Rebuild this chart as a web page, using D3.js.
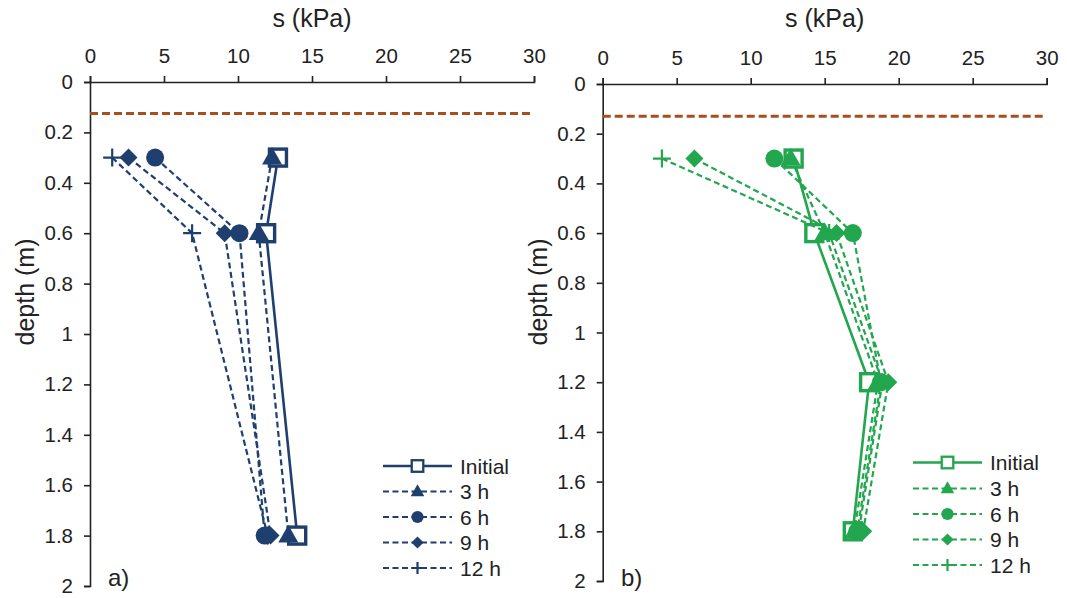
<!DOCTYPE html>
<html>
<head>
<meta charset="utf-8">
<script src="https://cdn.jsdelivr.net/npm/d3@7"></script>
<style>
  html, body { margin: 0; padding: 0; background: #fff; }
  svg { display: block; font-family: "Liberation Sans", Arial, sans-serif; }
</style>
</head>
<body>
<svg id="chart" width="1067" height="598"></svg>
<script>
// Series labels (legend order)
const seriesNames = ["Initial", "3 h", "6 h", "9 h", "12 h"];
const seriesSymbols = ["square", "triangle", "circle", "diamond", "cross"];

// Axis ticks
const suctionTicks = [0, 5, 10, 15, 20, 25, 30];
const depthTicks = [0, 0.2, 0.4, 0.6, 0.8, 1, 1.2, 1.4, 1.6, 1.8, 2];

// Panel a) — suction (kPa) at each measuring depth (m)
const depthsA = [0.3, 0.6, 1.8];
const sA_initial = [12.7, 11.9, 14.0];
const sA_3h = [12.3, 11.4, 13.4];
const sA_6h = [4.4, 10.1, 11.8];
const sA_9h = [2.6, 9.1, 12.2];
const sA_12h = [1.5, 6.9, 12.0];
const waterTableA = 0.125;

// Panel b) — suction (kPa) at each measuring depth (m)
const depthsB = [0.3, 0.6, 1.2, 1.8];
const sB_initial = [12.9, 14.3, 18.0, 16.9];
const sB_3h = [12.7, 15.0, 18.6, 17.0];
const sB_6h = [11.6, 16.9, 18.8, 17.2];
const sB_9h = [6.2, 15.8, 19.3, 17.6];
const sB_12h = [4.0, 15.3, 18.9, 17.3];
const waterTableB = 0.13;

const svg = d3.select("#chart");
const ink = "#222";

function drawPanel(opt) {
  const g = svg.append("g");
  const x = d3.scaleLinear().domain([0, 30]).range([opt.x0, opt.x1]);
  const y = d3.scaleLinear().domain([0, 2]).range([opt.y0, opt.y1]);

  // axes
  const xAxis = d3.axisTop(x).tickValues(suctionTicks).tickSize(6).tickPadding(13);
  const yAxis = d3.axisLeft(y).tickValues(depthTicks).tickSize(6).tickPadding(11)
    .tickFormat(d => String(+d.toFixed(1)));

  const gx = g.append("g").attr("transform", `translate(0,${opt.y0})`).call(xAxis);
  const gy = g.append("g").attr("transform", `translate(${opt.x0},0)`).call(yAxis);
  [gx, gy].forEach(a => {
    a.selectAll("path.domain").attr("stroke", ink).attr("stroke-width", 1.6);
    a.selectAll(".tick line").attr("stroke", ink).attr("stroke-width", 1.6);
    a.selectAll(".tick text").attr("fill", ink).attr("font-size", 20.5)
      .attr("font-family", "Liberation Sans, Arial, sans-serif");
  });

  // axis titles
  g.append("text").attr("x", (opt.x0 + opt.x1) / 2).attr("y", 27)
    .attr("text-anchor", "middle").attr("font-size", 25).attr("fill", ink)
    .text("s (kPa)");
  g.append("text")
    .attr("transform", `translate(${opt.x0 - 56},${opt.labelY}) rotate(-90)`)
    .attr("text-anchor", "middle").attr("font-size", 25).attr("fill", ink)
    .text("depth (m)");

  // water table line
  g.append("line")
    .attr("x1", x(0)).attr("x2", x(30))
    .attr("y1", y(opt.waterTable)).attr("y2", y(opt.waterTable))
    .attr("stroke", "#A5501E").attr("stroke-width", 3)
    .attr("stroke-dasharray", "8,4");

  const line = d3.line().x(d => x(d[0])).y(d => y(d[1]));

  opt.series.forEach((vals, i) => {
    const pts = vals.map((v, k) => [v, opt.depths[k]]);
    g.append("path").datum(pts)
      .attr("d", line).attr("fill", "none")
      .attr("stroke", opt.color)
      .attr("stroke-width", i === 0 ? 2.6 : 2.2)
      .attr("stroke-dasharray", i === 0 ? null : "6,3.5");
    pts.forEach(p => drawMarker(g, seriesSymbols[i], x(p[0]), y(p[1]), opt.color, 1));
  });

  // legend
  opt.legendY.forEach((ly, i) => {
    g.append("line")
      .attr("x1", opt.legendX).attr("x2", opt.legendX + 69)
      .attr("y1", ly).attr("y2", ly)
      .attr("stroke", opt.color)
      .attr("stroke-width", i === 0 ? 2.6 : 2.2)
      .attr("stroke-dasharray", i === 0 ? null : "6,3.5");
    drawMarker(g, seriesSymbols[i], opt.legendX + 34.5, ly, opt.color, 0.68);
    g.append("text").attr("x", opt.legendX + 77).attr("y", ly + 7.5)
      .attr("font-size", 21).attr("fill", ink).text(seriesNames[i]);
  });

  // panel tag
  g.append("text").attr("x", opt.tagX).attr("y", 586)
    .attr("font-size", 24).attr("fill", ink).text(opt.tag);
}

function drawMarker(g, kind, cx, cy, color, k) {
  if (kind === "square") {
    const s = 17 * k;
    g.append("rect").attr("x", cx - s / 2).attr("y", cy - s / 2)
      .attr("width", s).attr("height", s)
      .attr("fill", "#fff").attr("stroke", color).attr("stroke-width", 3.4 * k);
  } else if (kind === "triangle") {
    const r = 10.5 * k;
    g.append("path")
      .attr("d", `M${cx},${cy - r} L${cx + r * 0.95},${cy + r * 0.65} L${cx - r * 0.95},${cy + r * 0.65} Z`)
      .attr("fill", color);
  } else if (kind === "circle") {
    g.append("circle").attr("cx", cx).attr("cy", cy).attr("r", 9 * k).attr("fill", color);
  } else if (kind === "diamond") {
    const r = 9 * k;
    g.append("path")
      .attr("d", `M${cx},${cy - r} L${cx + r},${cy} L${cx},${cy + r} L${cx - r},${cy} Z`)
      .attr("fill", color);
  } else if (kind === "cross") {
    const r = 9 * k;
    g.append("path")
      .attr("d", `M${cx - r},${cy} H${cx + r} M${cx},${cy - r} V${cy + r}`)
      .attr("stroke", color).attr("stroke-width", 2.2).attr("fill", "none");
  }
}

drawPanel({
  x0: 90, x1: 534, y0: 82, y1: 586,
  color: "#1F3F6F",
  depths: depthsA,
  series: [sA_initial, sA_3h, sA_6h, sA_9h, sA_12h],
  waterTable: waterTableA,
  labelY: 292,
  legendX: 383,
  legendY: [466, 491.5, 517, 542.5, 568],
  tag: "a)", tagX: 108
});

drawPanel({
  x0: 602.7, x1: 1046.7, y0: 84, y1: 581,
  color: "#22A64E",
  depths: depthsB,
  series: [sB_initial, sB_3h, sB_6h, sB_9h, sB_12h],
  waterTable: waterTableB,
  labelY: 292,
  legendX: 913,
  legendY: [462.5, 488.5, 514, 539.5, 565],
  tag: "b)", tagX: 621
});
</script>
</body>
</html>
